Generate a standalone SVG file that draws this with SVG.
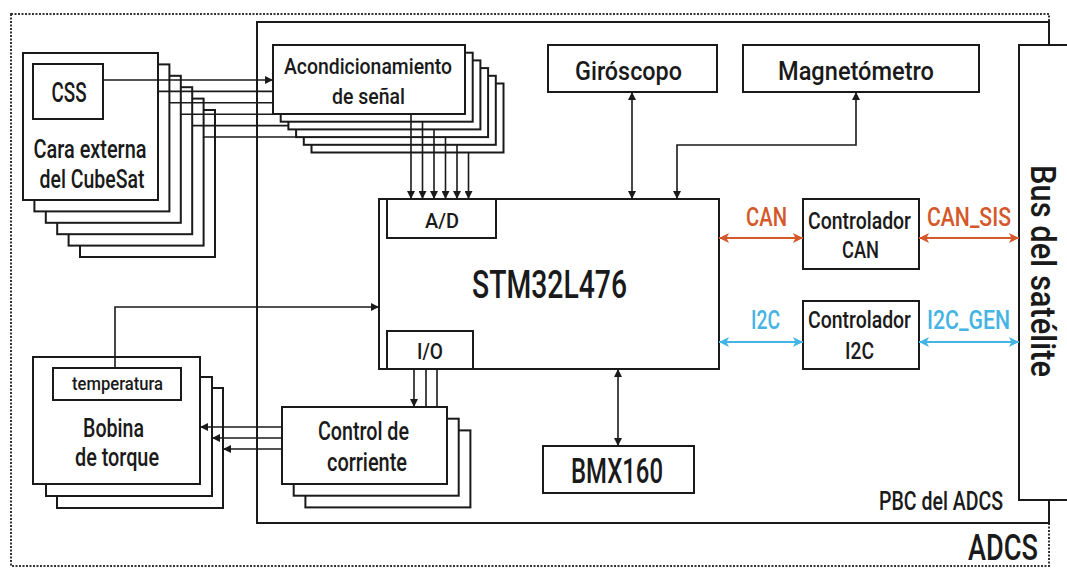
<svg xmlns="http://www.w3.org/2000/svg" width="1067" height="569" viewBox="0 0 1067 569">
<style>
.box{fill:#fff;stroke:#1a1a1a;stroke-width:2}
.ln{fill:none;stroke:#1a1a1a;stroke-width:1.6}
.t{font-family:Roboto,"Liberation Sans",sans-serif;fill:#1a1a1a;text-anchor:middle;font-weight:500}
.can{fill:none;stroke:#d4582a;stroke-width:2.2}
.i2c{fill:none;stroke:#44b4e4;stroke-width:2.2}
.to{fill:#d4582a}
.tb{fill:#44b4e4}
</style>
<defs>
<marker id="ah" viewBox="0 0 10 10" refX="10" refY="5" markerWidth="9" markerHeight="8" markerUnits="userSpaceOnUse" orient="auto-start-reverse"><path d="M0,0 L10,5 L0,10 z" fill="#1a1a1a"/></marker>
<marker id="ao" viewBox="0 0 10 10" refX="10" refY="5" markerWidth="12" markerHeight="10" markerUnits="userSpaceOnUse" orient="auto-start-reverse"><path d="M0,0 L10,5 L0,10 L2.5,5 z" fill="#d4582a"/></marker>
<marker id="ab" viewBox="0 0 10 10" refX="10" refY="5" markerWidth="12" markerHeight="10" markerUnits="userSpaceOnUse" orient="auto-start-reverse"><path d="M0,0 L10,5 L0,10 L2.5,5 z" fill="#44b4e4"/></marker>
</defs>
<rect width="1067" height="569" fill="#fff"/>

<g id="adcs">
<rect x="11" y="14" width="1038" height="552" fill="none" stroke="#333" stroke-width="2" stroke-dasharray="2,1.5"/>
<text class="t" x="1003" y="560" font-size="36" textLength="70" lengthAdjust="spacingAndGlyphs">ADCS</text>
</g>

<g id="pbc">
<rect x="257" y="22" width="792" height="501" fill="none" stroke="#1a1a1a" stroke-width="2"/>
<text class="t" x="941" y="510" font-size="26" textLength="124" lengthAdjust="spacingAndGlyphs">PBC del ADCS</text>
</g>

<g id="bus">
<rect class="box" x="1019" y="45" width="60" height="455"/>
<text class="t" transform="translate(1031,271) rotate(90)" x="0" y="0" font-size="35" textLength="212" lengthAdjust="spacingAndGlyphs">Bus del satélite</text>
</g>

<g id="cara">
<rect class="box" x="80" y="110" width="135" height="147"/>
<rect class="box" x="68.6" y="98.6" width="135" height="147"/>
<rect class="box" x="57.2" y="87.2" width="135" height="147"/>
<rect class="box" x="45.8" y="75.8" width="135" height="147"/>
<rect class="box" x="34.4" y="64.4" width="135" height="147"/>
<rect class="box" x="23" y="53" width="135" height="147"/>
<text class="t" x="90" y="158" font-size="25" textLength="113" lengthAdjust="spacingAndGlyphs">Cara externa</text>
<text class="t" x="92" y="188" font-size="25" textLength="105" lengthAdjust="spacingAndGlyphs">del CubeSat</text>
</g>

<g id="css">
<rect class="box" x="33" y="64" width="70" height="55"/>
<text class="t" x="69" y="102" font-size="28" textLength="35" lengthAdjust="spacingAndGlyphs">CSS</text>
</g>

<g id="acond">
<rect class="box" x="311.5" y="83.5" width="192" height="69"/>
<rect class="box" x="303.8" y="75.8" width="192" height="69"/>
<rect class="box" x="296.1" y="68.1" width="192" height="69"/>
<rect class="box" x="288.4" y="60.4" width="192" height="69"/>
<rect class="box" x="280.7" y="52.7" width="192" height="69"/>
<rect class="box" x="273" y="45" width="192" height="69"/>
<text class="t" x="368" y="74" font-size="22" textLength="168" lengthAdjust="spacingAndGlyphs">Acondicionamiento</text>
<text class="t" x="368.5" y="104" font-size="22" textLength="73" lengthAdjust="spacingAndGlyphs">de señal</text>
</g>

<g id="giroscopo">
<rect class="box" x="548" y="45" width="169" height="47"/>
<text class="t" x="628.5" y="80" font-size="25" textLength="107" lengthAdjust="spacingAndGlyphs">Giróscopo</text>
</g>

<g id="magnetometro">
<rect class="box" x="743" y="45" width="236" height="47"/>
<text class="t" x="856" y="80" font-size="25" textLength="156" lengthAdjust="spacingAndGlyphs">Magnetómetro</text>
</g>

<g id="stm">
<rect class="box" x="379" y="199" width="340" height="170"/>
<text class="t" x="549.5" y="298" font-size="39" textLength="155" lengthAdjust="spacingAndGlyphs">STM32L476</text>
</g>

<g id="ad">
<rect class="box" x="387" y="199" width="109" height="39"/>
<text class="t" x="442" y="228" font-size="21" textLength="34" lengthAdjust="spacingAndGlyphs">A/D</text>
</g>

<g id="io">
<rect class="box" x="387" y="331" width="86" height="38"/>
<text class="t" x="430" y="359" font-size="22" textLength="26" lengthAdjust="spacingAndGlyphs">I/O</text>
</g>

<g id="ctrl-can">
<rect class="box" x="803" y="199" width="116" height="70"/>
<text class="t" x="859.5" y="229" font-size="24" textLength="103" lengthAdjust="spacingAndGlyphs">Controlador</text>
<text class="t" x="860.5" y="258" font-size="24" textLength="37" lengthAdjust="spacingAndGlyphs">CAN</text>
</g>

<g id="ctrl-i2c">
<rect class="box" x="803" y="301" width="116" height="68"/>
<text class="t" x="859.5" y="328" font-size="24" textLength="103" lengthAdjust="spacingAndGlyphs">Controlador</text>
<text class="t" x="859.5" y="359" font-size="24" textLength="29" lengthAdjust="spacingAndGlyphs">I2C</text>
</g>

<g id="bmx160">
<rect class="box" x="543" y="446" width="151" height="47"/>
<text class="t" x="617" y="483" font-size="35" textLength="92" lengthAdjust="spacingAndGlyphs">BMX160</text>
</g>

<g id="control-corriente">
<rect class="box" x="305.4" y="430.4" width="165" height="77"/>
<rect class="box" x="293.7" y="418.7" width="165" height="77"/>
<rect class="box" x="282" y="407" width="165" height="77"/>
<text class="t" x="363.5" y="440" font-size="25" textLength="91" lengthAdjust="spacingAndGlyphs">Control de</text>
<text class="t" x="367" y="471" font-size="25" textLength="80" lengthAdjust="spacingAndGlyphs">corriente</text>
</g>

<g id="bobina">
<rect class="box" x="57" y="388" width="166" height="120"/>
<rect class="box" x="46" y="377" width="166" height="119"/>
<rect class="box" x="33" y="357" width="167" height="127"/>
<text class="t" x="113.5" y="437" font-size="25" textLength="61" lengthAdjust="spacingAndGlyphs">Bobina</text>
<text class="t" x="117" y="466" font-size="25" textLength="84" lengthAdjust="spacingAndGlyphs">de torque</text>
</g>

<g id="temperatura">
<rect class="box" x="53" y="368" width="128" height="32"/>
<text class="t" x="117.5" y="390" font-size="19" textLength="91" lengthAdjust="spacingAndGlyphs">temperatura</text>
</g>

<g id="connectors">
<path class="ln" d="M103,80 H273" marker-end="url(#ah)"/>
<path class="ln" d="M158,91.4 H273"/>
<path class="ln" d="M169.4,102.8 H273"/>
<path class="ln" d="M180.8,114.2 H280.7"/>
<path class="ln" d="M192.2,125.6 H288.4"/>
<path class="ln" d="M203.6,137 H296.1"/>

<path class="ln" d="M411,114 V199" marker-end="url(#ah)"/>
<path class="ln" d="M422.5,121.7 V199" marker-end="url(#ah)"/>
<path class="ln" d="M434,129.4 V199" marker-end="url(#ah)"/>
<path class="ln" d="M445.5,137.1 V199" marker-end="url(#ah)"/>
<path class="ln" d="M457,144.8 V199" marker-end="url(#ah)"/>
<path class="ln" d="M468.5,152.5 V199" marker-end="url(#ah)"/>

<path class="ln" d="M632,92 V199" marker-start="url(#ah)" marker-end="url(#ah)"/>
<path class="ln" d="M856,92 V145 H677 V199" marker-start="url(#ah)" marker-end="url(#ah)"/>
<path class="ln" d="M618,369 V446" marker-start="url(#ah)" marker-end="url(#ah)"/>

<path class="ln" d="M115,368 V307 H379" marker-end="url(#ah)"/>

<path class="ln" d="M414,369 V407" marker-end="url(#ah)"/>
<path class="ln" d="M426,369 V407"/>
<path class="ln" d="M437,369 V407"/>

<path class="ln" d="M282,427 H200" marker-end="url(#ah)"/>
<path class="ln" d="M282,438 H212" marker-end="url(#ah)"/>
<path class="ln" d="M282,449 H223" marker-end="url(#ah)"/>

<path class="can" d="M719,238 H803" marker-start="url(#ao)" marker-end="url(#ao)"/>
<path class="can" d="M919,238 H1019" marker-start="url(#ao)" marker-end="url(#ao)"/>
<path class="i2c" d="M719,342 H803" marker-start="url(#ab)" marker-end="url(#ab)"/>
<path class="i2c" d="M919,342 H1019" marker-start="url(#ab)" marker-end="url(#ab)"/>
<text class="t to" x="766.5" y="226" font-size="26" textLength="41" lengthAdjust="spacingAndGlyphs">CAN</text>
<text class="t to" x="969" y="226" font-size="26" textLength="84" lengthAdjust="spacingAndGlyphs">CAN_SIS</text>
<text class="t tb" x="765.5" y="329" font-size="26" textLength="29" lengthAdjust="spacingAndGlyphs">I2C</text>
<text class="t tb" x="968.5" y="329" font-size="26" textLength="83" lengthAdjust="spacingAndGlyphs">I2C_GEN</text>
</g>
</svg>
